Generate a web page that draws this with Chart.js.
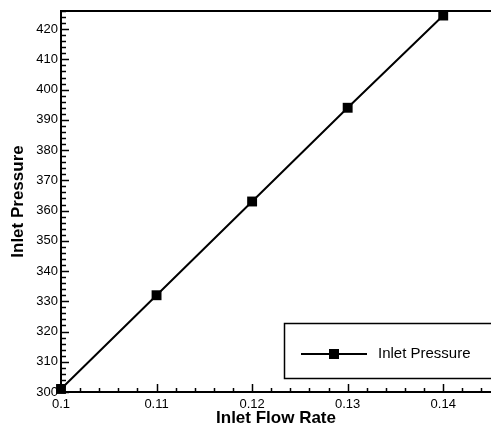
<!DOCTYPE html>
<html>
<head>
<meta charset="utf-8">
<script src="https://cdn.jsdelivr.net/npm/chart.js@4.4.1/dist/chart.umd.min.js"></script>
<style>
    html, body { margin: 0; padding: 0; background: #fff; }
    #wrap { width: 491px; height: 429px; }
</style>
</head>
<body>
<div id="wrap"><canvas id="chart" width="491" height="429"></canvas></div>
<script>
// --- data ---
const flowRate = [0.10, 0.11, 0.12, 0.13, 0.14];
const inletPressure = [301, 332, 363, 394, 424.5];
const xTickValues = [0.10, 0.11, 0.12, 0.13, 0.14];
const yTickValues = [300, 310, 320, 330, 340, 350, 360, 370, 380, 390, 400, 410, 420];
const seriesLabel = 'Inlet Pressure';

const FONT = '"Liberation Sans", Arial, sans-serif';

// frame + inward ticks (major and minor), drawn before the line
const framePlugin = {
    id: 'frame',
    beforeDatasetsDraw(chart) {
        const { ctx, chartArea: a, scales: { x, y } } = chart;
        ctx.save();
        ctx.strokeStyle = '#000';

        // minor + major ticks on x axis (pointing up)
        ctx.lineWidth = 1.5;
        for (let i = 0; i <= 22; i++) {
            const v = 0.1 + i * 0.002;
            const px = Math.round(x.getPixelForValue(v)) + 0.5;
            if (px > a.right) break;
            const major = i % 5 === 0;
            ctx.beginPath();
            ctx.moveTo(px, a.bottom);
            ctx.lineTo(px, a.bottom - (major ? 8 : 4));
            ctx.stroke();
        }
        // minor + major ticks on y axis (pointing right)
        for (let v = 300; v <= 426; v += 2) {
            const py = Math.round(y.getPixelForValue(v)) + 0.5;
            const major = v % 10 === 0;
            ctx.beginPath();
            ctx.moveTo(a.left, py);
            ctx.lineTo(a.left + (major ? 8 : 5), py);
            ctx.stroke();
        }

        // frame: left, bottom, top
        ctx.lineWidth = 2;
        ctx.beginPath();
        ctx.moveTo(a.right + 5, a.top);
        ctx.lineTo(a.left, a.top);
        ctx.lineTo(a.left, a.bottom);
        ctx.lineTo(a.right + 5, a.bottom);
        ctx.stroke();
        ctx.restore();
    },
    afterDraw(chart) {
        // legend box in the lower right corner
        const { ctx } = chart;
        const ds = chart.data.datasets[0];
        ctx.save();
        ctx.strokeStyle = '#000';
        ctx.lineWidth = 1.5;
        ctx.strokeRect(284.5, 323.5, 240, 55);

        ctx.lineWidth = ds.borderWidth;
        ctx.beginPath();
        ctx.moveTo(301, 354);
        ctx.lineTo(367, 354);
        ctx.stroke();
        ctx.fillStyle = ds.pointBackgroundColor;
        ctx.fillRect(329, 349, 10, 10);

        ctx.font = '15px ' + FONT;
        ctx.textBaseline = 'middle';
        ctx.textAlign = 'left';
        ctx.fillText(ds.label, 378, 354);
        ctx.restore();
    }
};

new Chart(document.getElementById('chart').getContext('2d'), {
    type: 'line',
    data: {
        datasets: [{
            label: seriesLabel,
            data: flowRate.map((v, i) => ({ x: v, y: inletPressure[i] })),
            borderColor: '#000',
            borderWidth: 2,
            pointStyle: 'rect',
            pointRadius: 7,
            pointBackgroundColor: '#000',
            pointBorderColor: '#000',
            pointBorderWidth: 0,
            tension: 0,
            clip: false
        }]
    },
    options: {
        responsive: false,
        animation: false,
        layout: { autoPadding: false, padding: { top: 11, right: 0, left: 0, bottom: 0 } },
        plugins: { legend: { display: false }, tooltip: { enabled: false } },
        scales: {
            x: {
                type: 'linear',
                min: 0.1,
                max: 0.145,
                grid: { display: false, drawTicks: false },
                border: { display: false },
                afterBuildTicks: s => { s.ticks = xTickValues.map(v => ({ value: v })); },
                afterFit: s => { s.height = 37; s.paddingLeft = 0; s.paddingRight = 0; },
                ticks: {
                    padding: 5,
                    color: '#000',
                    font: { family: FONT, size: 13 },
                    maxRotation: 0,
                    callback: v => String(+v.toFixed(3))
                },
                title: {
                    display: true,
                    text: 'Inlet Flow Rate',
                    color: '#000',
                    font: { family: FONT, size: 17, weight: 'bold' },
                    padding: { top: 0, bottom: 0 }
                }
            },
            y: {
                type: 'linear',
                min: 300,
                max: 426,
                grid: { display: false, drawTicks: false },
                border: { display: false },
                afterBuildTicks: s => { s.ticks = yTickValues.map(v => ({ value: v })); },
                afterFit: s => { s.width = 61; },
                ticks: {
                    padding: 3,
                    color: '#000',
                    font: { family: FONT, size: 13 },
                    callback: v => String(v)
                },
                title: {
                    display: true,
                    text: 'Inlet Pressure',
                    color: '#000',
                    font: { family: FONT, size: 17, weight: 'bold' },
                    padding: { top: 8, bottom: 0 }
                }
            }
        }
    },
    plugins: [framePlugin]
});
</script>
</body>
</html>
